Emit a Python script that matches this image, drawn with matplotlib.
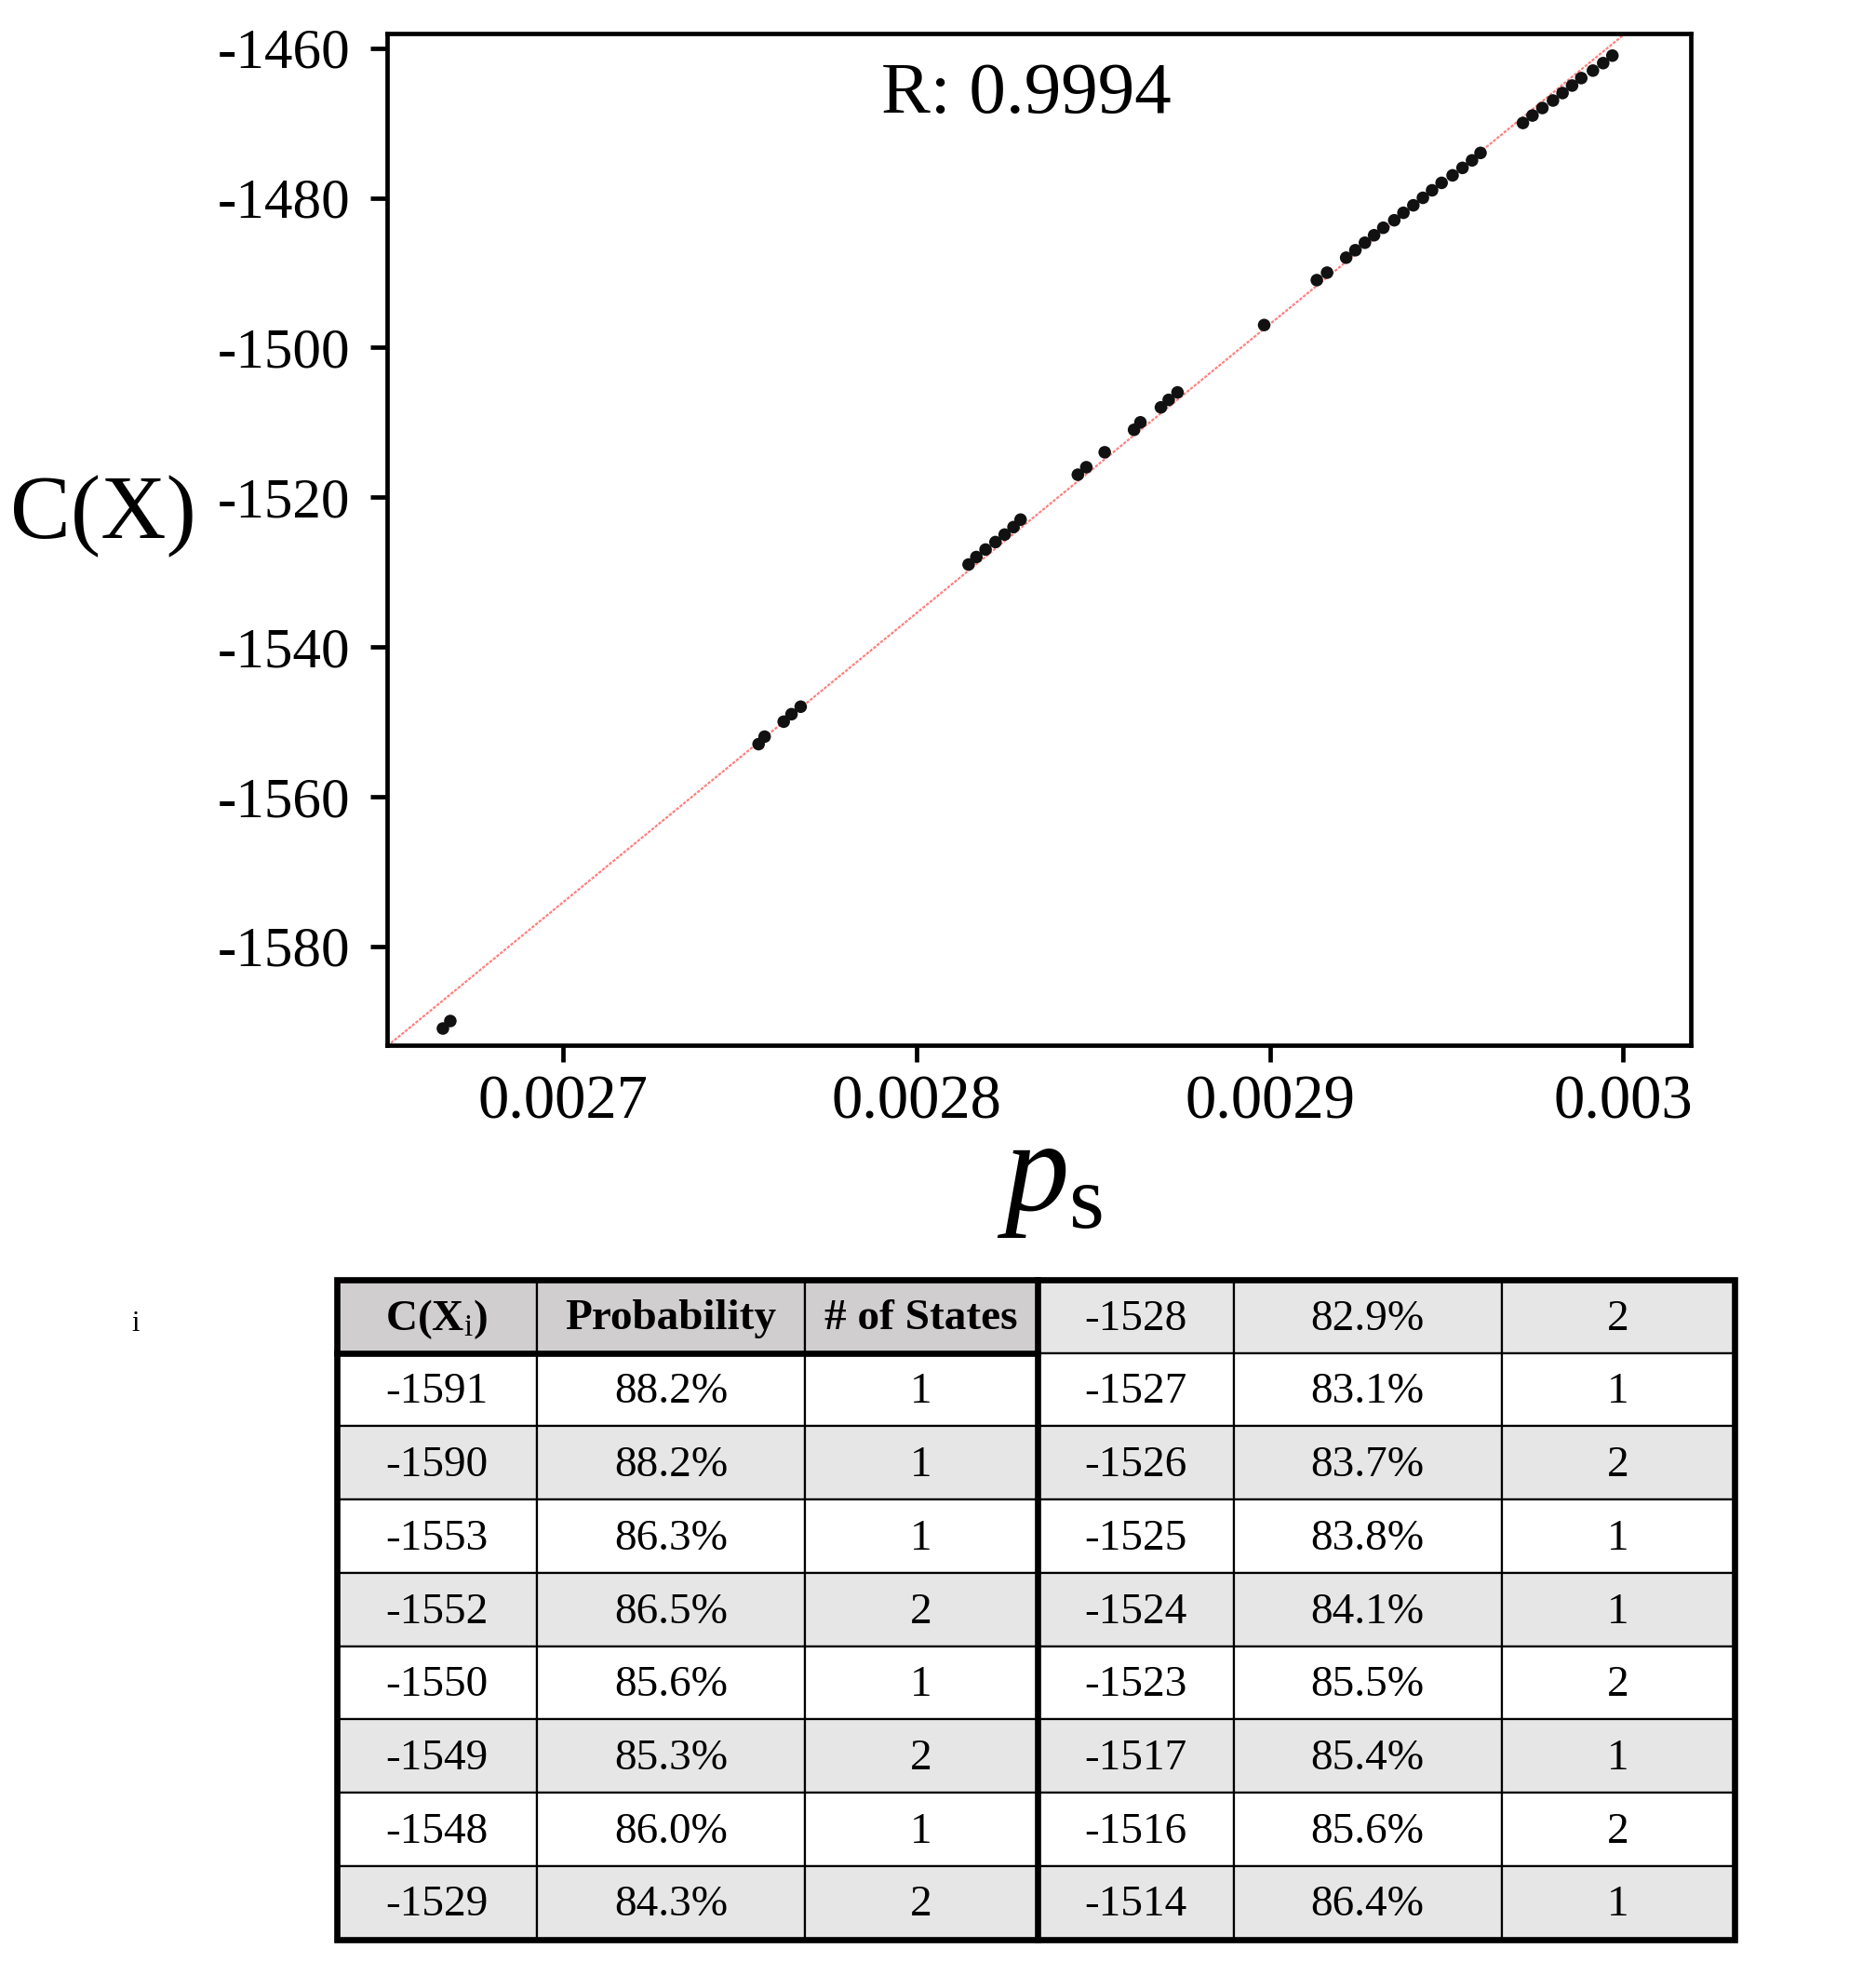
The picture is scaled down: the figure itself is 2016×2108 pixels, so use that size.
import numpy as np
import matplotlib
matplotlib.use('Agg')
import matplotlib.pyplot as plt
from matplotlib.patches import Rectangle

plt.rcParams['font.family'] = ['Liberation Serif', 'DejaVu Serif']
plt.rcParams['mathtext.fontset'] = 'custom'
plt.rcParams['mathtext.rm'] = 'Liberation Serif'
plt.rcParams['mathtext.it'] = 'Liberation Serif:italic'
plt.rcParams['mathtext.bf'] = 'Liberation Serif:bold'
plt.rcParams['axes.unicode_minus'] = False

# scatter data
cost = [-1591, -1590, -1553, -1552, -1550, -1549, -1548,
        -1529, -1528, -1527, -1526, -1525, -1524, -1523,
        -1517, -1516, -1514, -1511, -1510, -1508, -1507, -1506,
        -1497, -1491, -1490, -1488, -1487, -1486, -1485, -1484,
        -1483, -1482, -1481, -1480, -1479, -1478, -1477, -1476,
        -1475, -1474, -1470, -1469, -1468, -1467, -1466, -1465,
        -1464, -1463, -1462, -1461]
ps = [0.0026661, 0.0026682, 0.0027554, 0.0027571, 0.0027625, 0.0027647, 0.0027673,
      0.0028148, 0.0028170, 0.0028196, 0.0028224, 0.0028250, 0.0028275, 0.0028295,
      0.0028457, 0.0028481, 0.0028533, 0.0028616, 0.0028634, 0.0028692, 0.0028714, 0.0028739,
      0.0028984, 0.0029133, 0.0029162, 0.0029216, 0.0029242, 0.0029269, 0.0029295, 0.0029321,
      0.0029352, 0.0029378, 0.0029406, 0.0029433, 0.0029459, 0.0029486, 0.0029517, 0.0029545,
      0.0029572, 0.0029596, 0.0029716, 0.0029743, 0.0029771, 0.0029801, 0.0029828, 0.0029855,
      0.0029881, 0.0029914, 0.0029943, 0.0029969]

xticks = [0.0027, 0.0028, 0.0029, 0.003]
xtick_labels = ['0.0027', '0.0028', '0.0029', '0.003']
yticks = [-1460, -1480, -1500, -1520, -1540, -1560, -1580]
ytick_labels = ['-1460', '-1480', '-1500', '-1520', '-1540', '-1560', '-1580']

# table data
header = ['C(X$_{\\mathrm{i}}$)', 'Probability', '# of States']
left_cost = ['-1591', '-1590', '-1553', '-1552', '-1550', '-1549', '-1548', '-1529']
left_prob = ['88.2%', '88.2%', '86.3%', '86.5%', '85.6%', '85.3%', '86.0%', '84.3%']
left_states = ['1', '1', '1', '2', '1', '2', '1', '2']
right_cost = ['-1528', '-1527', '-1526', '-1525', '-1524', '-1523', '-1517', '-1516', '-1514']
right_prob = ['82.9%', '83.1%', '83.7%', '83.8%', '84.1%', '85.5%', '85.4%', '85.6%', '86.4%']
right_states = ['2', '1', '2', '1', '1', '2', '1', '2', '1']

W, H = 2016, 2108
fig = plt.figure(figsize=(W / 100, H / 100), dpi=100)

ax = fig.add_axes([0.2065, 0.4674, 0.695, 0.5155])
ax.set_xlim(0.0026504, 0.0030192)
ax.set_ylim(-1593.2, -1458.05)

coef = np.polyfit(ps, cost, 1)
xs = np.array(ax.get_xlim())
ax.plot(xs, np.polyval(coef, xs), color='#ff8080', lw=1.6, ls=(0, (1.5, 0.7)), zorder=2)
ax.scatter(ps, cost, s=95, c='#111111', edgecolors='none', zorder=3)

ax.set_xticks(xticks)
ax.set_xticklabels(xtick_labels)
ax.set_yticks(yticks)
ax.set_yticklabels(ytick_labels)
ax.tick_params(axis='both', direction='out', length=13, width=3.4, color='black')
ax.tick_params(axis='x', labelsize=48, pad=10)
ax.tick_params(axis='y', labelsize=44, pad=16)
for sp in ax.spines.values():
    sp.set_linewidth(3.4)
    sp.set_color('black')

ax.text(0.49, 0.939, 'R: 0.9994', transform=ax.transAxes, fontsize=57,
        ha='center', va='center')
fig.text(111 / W, 1 - 555 / H, 'C(X)', fontsize=70, ha='center', va='center')
fig.text(1128 / W, 1 - 1300 / H, r'$p_{\mathrm{s}}$', fontsize=100,
         ha='center', va='baseline')
fig.text(146 / W, 1 - 1422 / H, 'i', fontsize=22, ha='center', va='center')

# table drawn in pixel space
tab = fig.add_axes([0, 0, 1, 1])
tab.set_xlim(0, W)
tab.set_ylim(H, 0)
tab.axis('off')

lx = [362, 577, 865, 1114.5]
rx = [1114.5, 1325.5, 1613.5, 1863.5]
top = 1375
rh = (2083.5 - 1375) / 9
hdr_gray = '#d0cece'
row_gray = '#e7e6e6'

left_rows = [header] + [[c, p, s] for c, p, s in zip(left_cost, left_prob, left_states)]
right_rows = [[c, p, s] for c, p, s in zip(right_cost, right_prob, right_states)]

for side, (edges, rows) in enumerate([(lx, left_rows), (rx, right_rows)]):
    for i, row in enumerate(rows):
        y0 = top + i * rh
        if side == 0 and i == 0:
            fc = hdr_gray
        elif i % 2 == 0:
            fc = row_gray
        else:
            fc = 'white'
        for j, txt in enumerate(row):
            tab.add_patch(Rectangle((edges[j], y0), edges[j + 1] - edges[j], rh,
                                    facecolor=fc, edgecolor='black', lw=1.6))
            bold = side == 0 and i == 0
            tab.text((edges[j] + edges[j + 1]) / 2, y0 + rh / 2 + 3, txt,
                     fontsize=34, ha='center', va='center',
                     fontweight='bold' if bold else 'normal')

thick = 4.8
tab.add_patch(Rectangle((lx[0], top), rx[-1] - lx[0], 9 * rh, facecolor='none',
                        edgecolor='black', lw=thick))
tab.plot([lx[-1], lx[-1]], [top, top + 9 * rh], color='black', lw=thick)
tab.plot([lx[0], lx[-1]], [top + rh, top + rh], color='black', lw=thick)

fig.savefig('out.png', dpi=100)
